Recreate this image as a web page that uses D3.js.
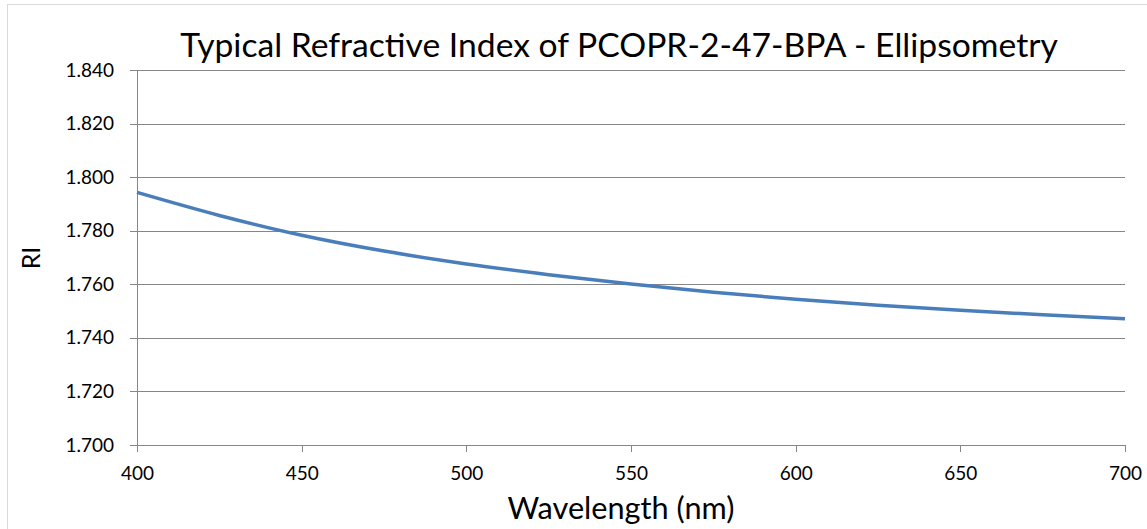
<!DOCTYPE html>
<html>
<head>
    <title>Typical Refractive Index of PCOPR-2-47-BPA</title>
    <script src="https://d3js.org/d3.v7.min.js"></script>
    <style>
        body { margin: 0; background: #fff; }
        text { font-family: Lato, "Open Sans", sans-serif; fill: #000; }
        .grid line { stroke: #868686; stroke-width: 1; shape-rendering: crispEdges; }
        .axis path, .axis line { stroke: #868686; shape-rendering: crispEdges; }
        .axis text { font-size: 19px; }
    </style>
</head>
<body>
    <svg width="1147" height="529"></svg>
    <script>
        // data
        const wavelengths = [400, 425, 450, 475, 500, 525, 550, 575, 600, 625, 650, 675, 700];
        const riValues = [1.7943, 1.7857, 1.7783, 1.7724, 1.7676, 1.7636, 1.7601, 1.7570, 1.7544, 1.7522, 1.7503, 1.7486, 1.7471];
        const xTicks = [400, 450, 500, 550, 600, 650, 700];
        const yTicks = [1.700, 1.720, 1.740, 1.760, 1.780, 1.800, 1.820, 1.840];

        const margin = { top: 70, right: 22, bottom: 84, left: 137 };
        const width = 1147 - margin.left - margin.right;
        const height = 529 - margin.top - margin.bottom;

        const root = d3.select("svg");

        // chart border
        root.append("rect")
            .attr("x", 7.5).attr("y", 4.5)
            .attr("width", 1150).attr("height", 540)
            .attr("fill", "none")
            .attr("stroke", "#d9d9d9");

        const svg = root.append("g")
            .attr("transform", `translate(${margin.left}, ${margin.top})`);

        const xScale = d3.scaleLinear().domain([400, 700]).range([0, width]);
        const yScale = d3.scaleLinear().domain([1.70, 1.84]).range([height, 0]);

        // gridlines
        svg.append("g")
            .attr("class", "grid")
            .selectAll("line")
            .data(yTicks.slice(1))
            .enter().append("line")
            .attr("x1", 0).attr("x2", width)
            .attr("y1", d => Math.round(yScale(d)) + 0.5)
            .attr("y2", d => Math.round(yScale(d)) + 0.5);

        // axes
        svg.append("g")
            .attr("class", "axis")
            .attr("transform", `translate(0, ${height})`)
            .call(d3.axisBottom(xScale).tickValues(xTicks).tickFormat(d3.format("d")).tickSizeInner(7).tickSizeOuter(0).tickPadding(15));

        svg.append("g")
            .attr("class", "axis")
            .call(d3.axisLeft(yScale).tickValues(yTicks).tickFormat(d3.format(".3f")).tickSizeInner(7).tickSizeOuter(0).tickPadding(16));

        // line
        const line = d3.line()
            .x((d, i) => xScale(wavelengths[i]))
            .y(d => yScale(d))
            .curve(d3.curveMonotoneX);

        svg.append("path")
            .datum(riValues)
            .attr("fill", "none")
            .attr("stroke", "#4a7ebb")
            .attr("stroke-width", 3.5)
            .attr("d", line);

        // title
        const title = root.append("text")
            .attr("x", 619)
            .attr("y", 57)
            .attr("text-anchor", "middle")
            .style("font-size", "30px")
            .text("Typical Refractive Index of PCOPR-2-47-BPA - Ellipsometry");
        const tw = title.node().getComputedTextLength();
        title.style("font-size", (30 * 878 / tw) + "px");

        // axis titles
        const xt = root.append("text")
            .attr("x", 621)
            .attr("y", 519)
            .attr("text-anchor", "middle")
            .style("font-size", "26px")
            .text("Wavelength (nm)");
        const xw = xt.node().getComputedTextLength();
        xt.style("font-size", (26 * 227 / xw) + "px");

        root.append("text")
            .attr("transform", "rotate(-90)")
            .attr("x", -258)
            .attr("y", 40)
            .attr("text-anchor", "middle")
            .style("font-size", "25px")
            .text("RI");
    </script>
</body>
</html>
